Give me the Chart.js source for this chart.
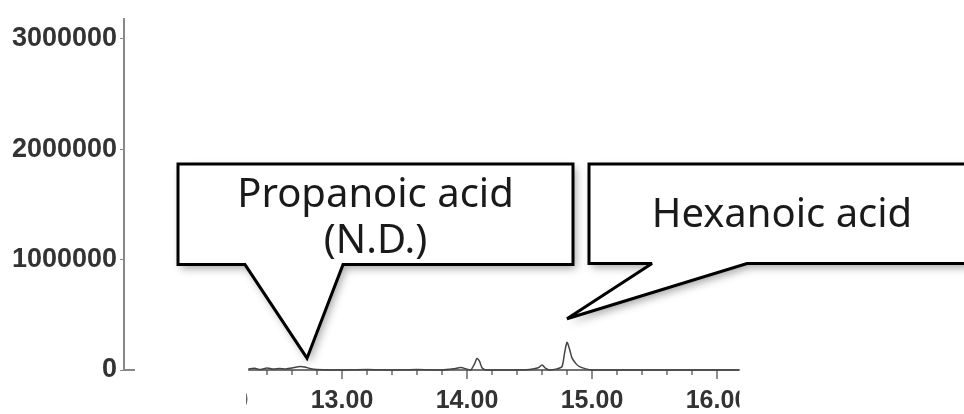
<!DOCTYPE html>
<html>
<head>
<meta charset="utf-8">
<script src="https://cdn.jsdelivr.net/npm/chart.js@4.4.1/dist/chart.umd.min.js"></script>
<style>
body{margin:0;background:#fff}
#wrap{width:964px;height:414px;position:relative}
</style>
</head>
<body>
<div id="wrap"><canvas id="chart"></canvas></div>
<script>

// retention time (min) and abundance
const retTime = [12.25,12.3,12.35,12.4,12.45,12.5,12.55,12.6,12.65,12.7,12.75,12.8,12.9,13.0,13.2,13.4,13.6,13.8,13.9,13.95,14.0,14.03,14.06,14.08,14.1,14.12,14.15,14.3,14.5,14.57,14.6,14.63,14.66,14.72,14.76,14.78,14.8,14.82,14.84,14.87,14.9,14.95,15.0,15.5,16.18]
const abundance = [10000,15000,5000,18000,8000,14000,10000,18000,30000,28000,12000,5000,0,0,4000,0,4000,0,12000,22000,8000,0,55000,105000,80000,20000,0,0,5000,20000,45000,15000,0,10000,30000,150000,250000,190000,110000,60000,30000,10000,0,0,0]

const xTickValues = [12,13,14,15,16]
const xTickLabels = ["12.00","13.00","14.00","15.00","16.00"]

const yTickValues = [0,1000000,2000000,3000000]

// callouts, given in data units
const callouts = [
    {
        lines:["Propanoic acid","(N.D.)"],
        box:[11.688,14.848,1866000,955000],
        base:[12.224,13.008],
        tip:[12.72,107000],
        baseline:[43,89]
    },
    {
        lines:["Hexanoic acid"],
        box:[14.976,18.1,1866000,964000],
        base:[15.48,16.24],
        tip:[14.80,464000],
        baseline:[63],
        textX:16.52
    }
]

const axisStart = 12.25
const axisEnd = 16.18

const axisPlugin = {
    id:"axisPiece",
    beforeDatasetsDraw(chart){
        const ctx = chart.ctx
        const xs = chart.scales.x
        const ys = chart.scales.y
        const y0 = ys.getPixelForValue(0)
        const left = xs.getPixelForValue(axisStart)
        const right = xs.getPixelForValue(axisEnd)

        ctx.save()
        ctx.strokeStyle = "#444"
        ctx.lineWidth = 1.5
        ctx.beginPath()
        ctx.moveTo(left,y0)
        ctx.lineTo(right,y0)
        ctx.stroke()

        // tick marks every 0.2 min
        ctx.lineWidth = 1.2
        for(let i=0;i<=25;i++){
            const v = 12 + i*0.2
            if(v < axisStart || v > axisEnd) continue
            const px = xs.getPixelForValue(v)
            const major = Math.abs(v - Math.round(v)) < 0.01
            ctx.beginPath()
            ctx.moveTo(px,y0)
            ctx.lineTo(px,y0 + (major ? 9 : 5))
            ctx.stroke()
        }

        // y axis foot
        ctx.strokeStyle = "#888"
        ctx.lineWidth = 2
        ctx.beginPath()
        ctx.moveTo(chart.chartArea.left,y0)
        ctx.lineTo(chart.chartArea.left+11,y0)
        ctx.stroke()

        // tick labels, clipped to the pasted strip
        ctx.beginPath()
        ctx.rect(left-2,y0,right-left+2,60)
        ctx.clip()
        ctx.fillStyle = "#333"
        ctx.font = "bold 25px 'Liberation Sans'"
        ctx.textAlign = "center"
        ctx.textBaseline = "middle"
        xTickValues.forEach((v,i)=>{
            ctx.fillText(xTickLabels[i], xs.getPixelForValue(v), y0 + 31)
        })
        ctx.restore()
    }
}

const calloutPlugin = {
    id:"callouts",
    afterDraw(chart){
        const ctx = chart.ctx
        const xs = chart.scales.x
        const ys = chart.scales.y

        callouts.forEach(c=>{
            const x1 = xs.getPixelForValue(c.box[0])
            const x2 = xs.getPixelForValue(c.box[1])
            const top = ys.getPixelForValue(c.box[2])
            const bot = ys.getPixelForValue(c.box[3])
            const b1 = xs.getPixelForValue(c.base[0])
            const b2 = xs.getPixelForValue(c.base[1])
            const tx = xs.getPixelForValue(c.tip[0])
            const ty = ys.getPixelForValue(c.tip[1])

            ctx.save()
            ctx.beginPath()
            ctx.moveTo(x1,top)
            ctx.lineTo(x2,top)
            ctx.lineTo(x2,bot)
            ctx.lineTo(b2,bot)
            ctx.lineTo(tx,ty)
            ctx.lineTo(b1,bot)
            ctx.lineTo(x1,bot)
            ctx.closePath()
            ctx.shadowColor = "rgba(0,0,0,0.35)"
            ctx.shadowBlur = 8
            ctx.shadowOffsetX = 3
            ctx.shadowOffsetY = 4
            ctx.fillStyle = "#fff"
            ctx.fill()
            ctx.shadowColor = "transparent"
            ctx.lineJoin = "miter"
            ctx.miterLimit = 3
            ctx.lineWidth = 3
            ctx.strokeStyle = "#000"
            ctx.stroke()

            ctx.fillStyle = "#1a1a1a"
            ctx.font = "40px 'Noto Sans'"
            ctx.textAlign = "center"
            ctx.textBaseline = "alphabetic"
            const cx = c.textX ? xs.getPixelForValue(c.textX) : (x1+x2)/2
            c.lines.forEach((t,i)=>{
                ctx.fillText(t, cx, top + c.baseline[i])
            })
            ctx.restore()
        })
    }
}

new Chart(document.getElementById("chart"),{
    type:"line",
    data:{
        datasets:[
            {
                data:retTime.map((t,i)=>({x:t,y:abundance[i]})),
                borderColor:"#444",
                borderWidth:1.5,
                pointRadius:0,
                tension:0.25,
                clip:false
            }
        ]
    },
    options:{
        responsive:true,
        maintainAspectRatio:false,
        animation:false,
        layout:{
            padding:{left:0,top:14,right:0,bottom:44}
        },
        plugins:{
            legend:{display:false},
            tooltip:{enabled:false}
        },
        scales:{
            x:{
                type:"linear",
                min:11.256,
                max:17.976,
                display:false
            },
            y:{
                min:0,
                max:3178571,
                afterFit(scale){
                    scale.width = 124
                },
                afterBuildTicks(scale){
                    scale.ticks = yTickValues.map(v=>({value:v}))
                },
                border:{color:"#888",width:2},
                grid:{
                    drawOnChartArea:false,
                    tickLength:4,
                    color:"#888"
                },
                ticks:{
                    padding:3,
                    color:"#333",
                    font:{family:"Liberation Sans",size:27,weight:"bold"},
                    callback:(v)=>String(v)
                }
            }
        }
    },
    plugins:[axisPlugin,calloutPlugin]
})

</script>
</body>
</html>
